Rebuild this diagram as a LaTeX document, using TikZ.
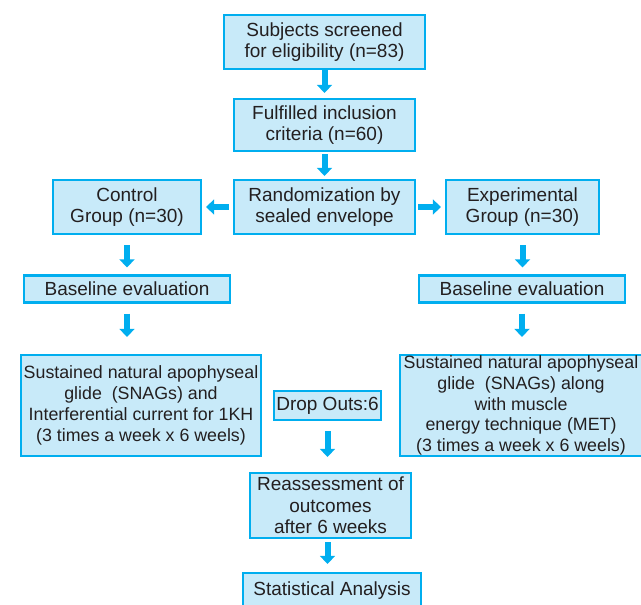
\documentclass[tikz,border=0pt]{standalone}
\usepackage{fontspec}
\setmainfont{Liberation Sans}
\usetikzlibrary{arrows.meta}
\definecolor{bordc}{RGB}{0,174,239}
\definecolor{fillc}{RGB}{200,234,249}
\definecolor{txtc}{RGB}{35,31,32}
\begin{document}
\begin{tikzpicture}[x=1pt,y=-1pt,
  box/.style={draw=bordc, line width=2.2pt, fill=fillc, text=txtc, align=center, inner sep=0pt, font=\fontsize{19}{21.5}\selectfont},
  tbox/.style={box, font=\fontsize{17.8}{20.8}\selectfont},
  arr/.style={draw=bordc, line width=6pt, -{Triangle[width=15pt,length=8pt]}}]
\useasboundingbox (0,0) rectangle (641,605);
\node[box, minimum width=201pt, minimum height=54pt] (scr) at (324.5,42) {Subjects screened\\for eligibility (n=83)};
\node[box, minimum width=181pt, minimum height=52pt] (inc) at (324.5,125) {Fulfilled inclusion\\criteria (n=60)};
\node[box, minimum width=181pt, minimum height=54pt] (rand) at (324.5,207) {Randomization by\\sealed envelope};
\node[box, minimum width=148pt, minimum height=54pt] (ctrl) at (127,207) {Control\\Group (n=30)};
\node[box, minimum width=153pt, minimum height=54pt] (exp) at (522.5,207) {Experimental\\Group (n=30)};
\node[box, minimum width=206pt, minimum height=27pt] (baseL) at (127,289) {Baseline evaluation};
\node[box, minimum width=206pt, minimum height=27pt] (baseR) at (522,289) {Baseline evaluation};
\node[tbox, minimum width=240pt, minimum height=101pt] (treatL) at (141,405.5) {Sustained natural apophyseal\\glide\ \ (SNAGs) and\\Interferential current for 1KH\\(3 times a week x 6 weels)};
\node[tbox, minimum width=242pt, minimum height=101pt] (treatR) at (521,405.5) {Sustained natural apophyseal\\glide\ \ (SNAGs) along\\with muscle\\energy technique (MET)\\(3 times a week x 6 weels)};
\node[box, minimum width=107pt, minimum height=29pt] (drop) at (327.5,405.5) {Drop Outs:6};
\node[box, minimum width=161pt, minimum height=65pt] (reas) at (330.5,505.5) {Reassessment of\\outcomes\\after 6 weeks};
\node[box, minimum width=178pt, minimum height=36pt] (stat) at (332,591) {Statistical Analysis};
\draw[arr, shorten >=5pt] (scr.south) -- (inc.north);
\draw[arr, shorten <=2pt, shorten >=3pt] (inc.south) -- (rand.north);
\draw[arr, shorten <=4pt, shorten >=4pt] (rand.west) -- (ctrl.east);
\draw[arr, shorten <=2pt, shorten >=4pt] (rand.east) -- (exp.west);
\draw[arr, shorten <=10pt, shorten >=7pt] (ctrl.south) -- (baseL.north);
\draw[arr, shorten <=10pt, shorten >=7pt] (exp.south) -- (exp.south |- baseR.north);
\draw[arr, shorten <=10pt, shorten >=17pt] (baseL.south) -- (baseL.south |- treatL.north);
\draw[arr, shorten <=10pt, shorten >=17pt] (baseR.south) -- (baseR.south |- treatR.north);
\draw[arr, shorten <=10pt, shorten >=15pt] (drop.south) -- (drop.south |- reas.north);
\draw[arr, shorten <=3pt, shorten >=8pt] (drop.south |- reas.south) -- (drop.south |- stat.north);
\end{tikzpicture}
\end{document}
